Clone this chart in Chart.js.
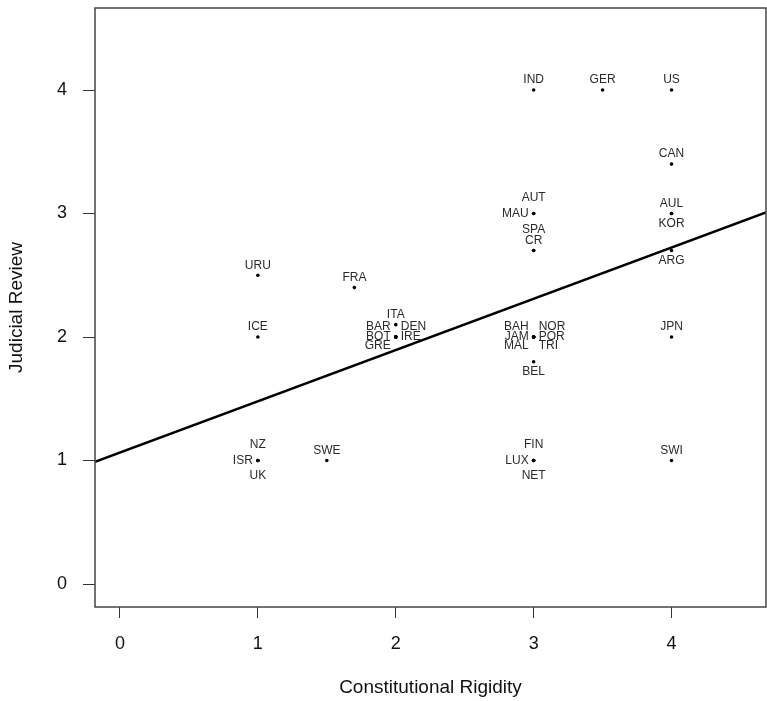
<!DOCTYPE html>
<html>
<head>
<meta charset="utf-8">
<script src="https://cdn.jsdelivr.net/npm/chart.js@4.4.1/dist/chart.umd.min.js"></script>
<style>
  html, body { margin: 0; padding: 0; background: #fff; }
</style>
</head>
<body>
<canvas id="rigidityChart" width="767" height="701"></canvas>
<script>
// countries and their scores
const countries = ['IND', 'GER', 'US', 'CAN', 'AUT', 'MAU', 'SPA', 'CR', 'AUL', 'KOR', 'ARG',
  'URU', 'FRA', 'ICE', 'ITA', 'BAR', 'BOT', 'GRE', 'DEN', 'IRE',
  'BAH', 'JAM', 'MAL', 'NOR', 'POR', 'TRI', 'BEL', 'JPN',
  'NZ', 'ISR', 'UK', 'SWE', 'FIN', 'LUX', 'NET', 'SWI'];
const rigidity = [3, 3.5, 4, 4, 3, 3, 3, 3, 4, 4, 4,
  1, 1.7, 1, 2, 2, 2, 2, 2, 2,
  3, 3, 3, 3, 3, 3, 3, 4,
  1, 1, 1, 1.5, 3, 3, 3, 4];
const judicialReview = [4, 4, 4, 3.4, 3, 3, 2.7, 2.7, 3, 3, 2.7,
  2.5, 2.4, 2, 2.1, 2, 2, 2, 2, 2,
  2, 2, 2, 2, 2, 2, 1.8, 2,
  1, 1, 1, 1, 1, 1, 1, 1];
// which side of the dot each label goes on
const labelSide = ['n', 'n', 'n', 'n', 'N', 'w', 'n2', 'n', 'n', 's', 's',
  'n', 'n', 'n', 'n', 'nw', 'w', 'sw', 'ne', 'e',
  'nw', 'w', 'sw', 'ne', 'e', 'se', 's', 'n',
  'N', 'w', 'S', 'n', 'N', 'w', 'S', 'n'];

// fitted line, end points
const fitX = [-0.181, 4.685];
const fitY = [0.99, 3.009];

const xTicks = [0, 1, 2, 3, 4];
const yTicks = [0, 1, 2, 3, 4];

const textFont = 'Liberation Sans, Arial, Helvetica, sans-serif';

// offsets in px for each label side
const sideOffsets = {
  n:  [0, -10, 'center'],
  n2: [0, -21, 'center'],
  N:  [0, -16, 'center'],
  s:  [0, 10, 'center'],
  S:  [0, 15, 'center'],
  w:  [-5, 0, 'right'],
  e:  [5, 0, 'left'],
  nw: [-5, -10, 'right'],
  sw: [-5, 9, 'right'],
  ne: [5, -10, 'left'],
  se: [5, 9, 'left']
};

const pointLabels = {
  id: 'pointLabels',
  afterDatasetsDraw(chart) {
    const ctx = chart.ctx;
    const meta = chart.getDatasetMeta(0);
    ctx.save();
    ctx.font = '12px ' + textFont;
    ctx.fillStyle = '#2a2a2a';
    ctx.textBaseline = 'middle';
    meta.data.forEach((pt, i) => {
      const off = sideOffsets[labelSide[i]];
      ctx.textAlign = off[2];
      ctx.fillText(countries[i], pt.x + off[0], pt.y + off[1]);
    });
    ctx.restore();
  }
};

// box round the plot area
const plotBox = {
  id: 'plotBox',
  afterDraw(chart) {
    const a = chart.chartArea;
    const ctx = chart.ctx;
    ctx.save();
    ctx.strokeStyle = '#444';
    ctx.lineWidth = 1.5;
    ctx.strokeRect(a.left, a.top, a.right - a.left, a.bottom - a.top);
    ctx.restore();
  }
};

// no extra room for edge labels
function noPadding(scale) {
  scale.paddingTop = 0;
  scale.paddingBottom = 0;
  scale.paddingLeft = 0;
  scale.paddingRight = 0;
}

const ctx = document.getElementById('rigidityChart').getContext('2d');

new Chart(ctx, {
  type: 'scatter',
  data: {
    datasets: [
      {
        label: 'Countries',
        data: countries.map((c, i) => ({ x: rigidity[i], y: judicialReview[i] })),
        backgroundColor: '#000',
        borderColor: '#000',
        pointRadius: 1.8,
        borderWidth: 0
      },
      {
        type: 'line',
        label: 'Fit',
        data: fitX.map((x, i) => ({ x: x, y: fitY[i] })),
        borderColor: '#000',
        borderWidth: 2.5,
        pointRadius: 0,
        fill: false
      }
    ]
  },
  options: {
    responsive: false,
    animation: false,
    layout: { autoPadding: false, padding: { left: 0, right: 1, top: 8, bottom: 0 } },
    plugins: {
      legend: { display: false },
      tooltip: { enabled: false }
    },
    scales: {
      x: {
        type: 'linear',
        min: -0.181,
        max: 4.685,
        afterBuildTicks: (scale) => { scale.ticks = xTicks.map(v => ({ value: v })); },
        afterFit: (scale) => { scale.height = 94; noPadding(scale); },
        ticks: {
          color: '#111',
          font: { family: textFont, size: 18 },
          padding: 15
        },
        grid: { display: true, drawOnChartArea: false, drawTicks: true, tickLength: 11, color: '#333' },
        border: { display: false },
        title: {
          display: true,
          text: 'Constitutional Rigidity',
          color: '#111',
          font: { family: textFont, size: 19 },
          padding: { top: 0, bottom: 2 }
        }
      },
      y: {
        type: 'linear',
        min: -0.186,
        max: 4.664,
        afterBuildTicks: (scale) => { scale.ticks = yTicks.map(v => ({ value: v })); },
        afterFit: (scale) => { scale.width = 95; noPadding(scale); },
        ticks: {
          color: '#111',
          font: { family: textFont, size: 18 },
          padding: 16
        },
        grid: { display: true, drawOnChartArea: false, drawTicks: true, tickLength: 12, color: '#333' },
        border: { display: false },
        title: {
          display: true,
          text: 'Judicial Review',
          color: '#111',
          font: { family: textFont, size: 19 },
          padding: { top: 5, bottom: 0 }
        }
      }
    }
  },
  plugins: [pointLabels, plotBox]
});
</script>
</body>
</html>
